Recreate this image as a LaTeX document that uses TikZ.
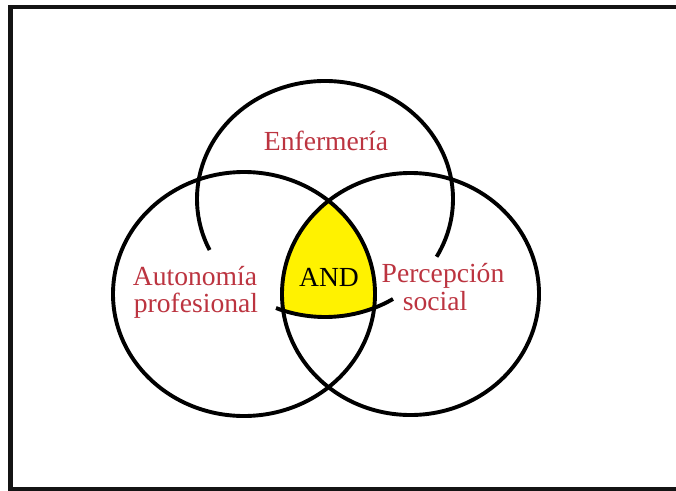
\documentclass[tikz,border=0pt]{standalone}
\usepackage{fontspec}
\setmainfont{Liberation Serif}
\usetikzlibrary{calc}
\definecolor{andyellow}{RGB}{255,242,0}
\definecolor{labelred}{RGB}{188,52,64}
\definecolor{framegray}{RGB}{20,20,20}
\tikzset{
  ring/.style={line width=3.9pt, black},
  lbl/.style={anchor=base, inner sep=0pt, text=labelred, font=\fontsize{27.6}{30}\selectfont},
  andlbl/.style={anchor=base, inner sep=0pt, text=black, font=\fontsize{27.6}{30}\selectfont},
}
\begin{document}
\begin{tikzpicture}[x=1pt, y=-1pt]
\useasboundingbox (0,0) rectangle (676,490);
\clip (0,0) rectangle (676,490);
\fill[white] (0,0) rectangle (676,490);
% frame (right side lies outside the picture)
\draw[line width=4.4pt, framegray] (10.5,7.2) rectangle (700,489.6);
% circle centres
\coordinate (cl) at (244,294);
\coordinate (cr) at (410.5,294);
\coordinate (ct) at (325,199);
% yellow intersection
\begin{scope}
  \clip (cl) ellipse [x radius=131, y radius=122];
  \clip (cr) ellipse [x radius=128.5, y radius=121];
  \fill[andyellow] (ct) ellipse [x radius=128, y radius=118];
\end{scope}
% circles
\draw[ring] (cl) ellipse [x radius=131, y radius=122];
\draw[ring] (cr) ellipse [x radius=128.5, y radius=121];
% top circle: upper arc and the short lower piece
\draw[ring] ($(ct)+(154.4:128 and 118)$) arc [start angle=154.4, end angle=389.3, x radius=128, y radius=118];
\draw[ring] ($(ct)+(112.5:128 and 118)$) arc [start angle=112.5, end angle=57.9, x radius=128, y radius=118];
% labels
\node[lbl] (enf) at (326,150) {Enfermería};
\node[lbl] (aut1) at (195,285) {Autonomía};
\node[lbl] (aut2) at (196,312) {profesional};
\node[andlbl] (and) at (329,286) {AND};
\node[lbl] (per1) at (443,282) {Percepción};
\node[lbl] (per2) at (435,310) {social};
\end{tikzpicture}
\end{document}
